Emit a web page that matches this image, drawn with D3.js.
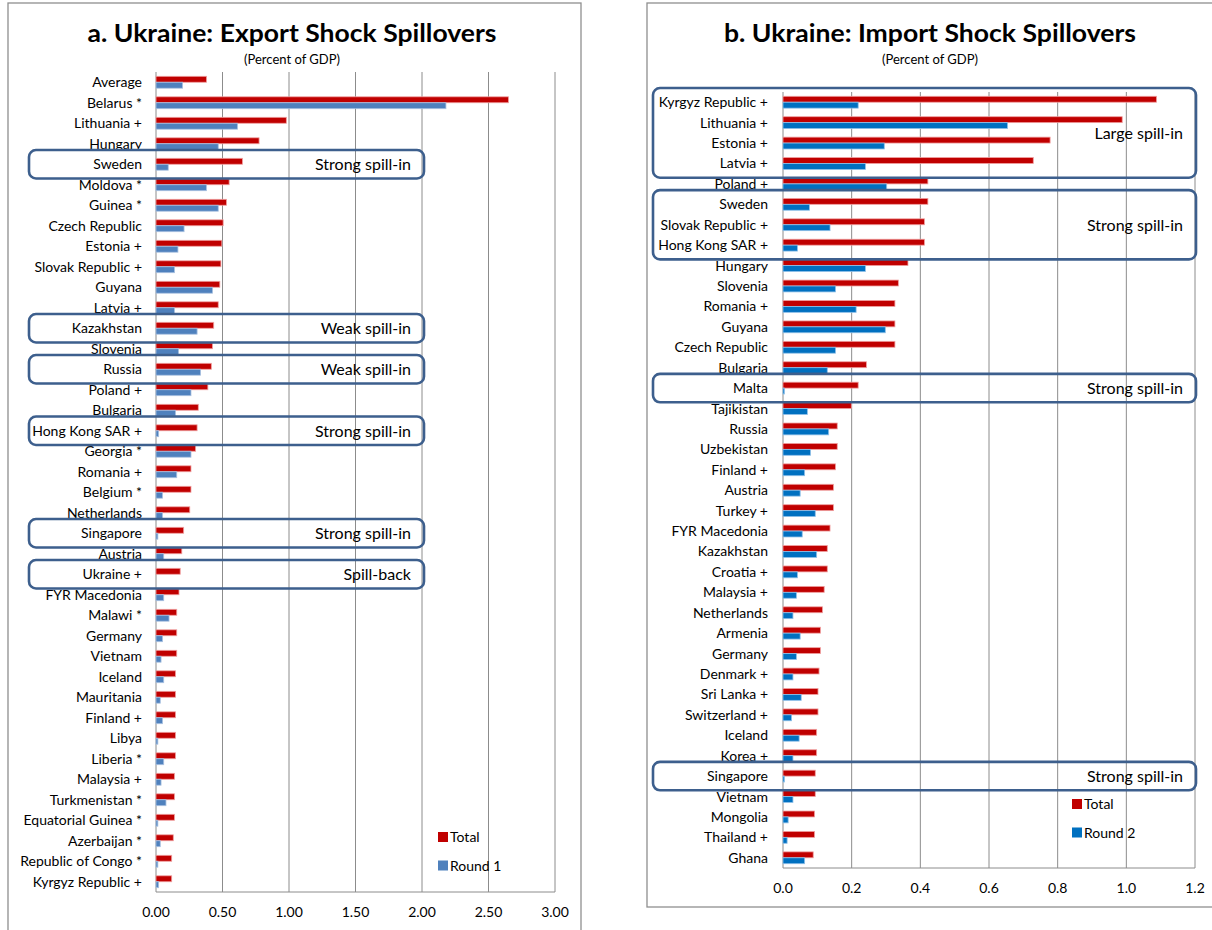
<!DOCTYPE html>
<html>
<head>
<meta charset="utf-8">
<script src="https://cdn.jsdelivr.net/npm/d3@7"></script>
<style>
  body { margin: 0; background: #fff; }
  svg { font-family: Lato, "Open Sans", sans-serif; }
</style>
</head>
<body>
<div id="chart"></div>
<script>
// panel a: export shock
const exportCountries = ["Average", "Belarus *", "Lithuania +", "Hungary", "Sweden", "Moldova *", "Guinea *",
  "Czech Republic", "Estonia +", "Slovak Republic +", "Guyana", "Latvia +", "Kazakhstan", "Slovenia", "Russia",
  "Poland +", "Bulgaria", "Hong Kong SAR +", "Georgia *", "Romania +", "Belgium *", "Netherlands", "Singapore",
  "Austria", "Ukraine +", "FYR Macedonia", "Malawi *", "Germany", "Vietnam", "Iceland", "Mauritania", "Finland +",
  "Libya", "Liberia *", "Malaysia +", "Turkmenistan *", "Equatorial Guinea *", "Azerbaijan *",
  "Republic of Congo *", "Kyrgyz Republic +"];
const exportTotal = [0.38, 2.65, 0.98, 0.775, 0.65, 0.55, 0.53, 0.505, 0.495, 0.488, 0.48, 0.468, 0.434, 0.425,
  0.416, 0.39, 0.318, 0.309, 0.298, 0.263, 0.263, 0.254, 0.208, 0.194, 0.182, 0.173, 0.156, 0.156, 0.156, 0.147,
  0.147, 0.147, 0.147, 0.147, 0.139, 0.139, 0.139, 0.13, 0.118, 0.118];
const exportRound1 = [0.20, 2.18, 0.613, 0.468, 0.092, 0.379, 0.468, 0.211, 0.165, 0.139, 0.425, 0.139, 0.309,
  0.17, 0.335, 0.263, 0.147, 0.02, 0.263, 0.156, 0.049, 0.049, 0.014, 0.058, 0.0, 0.058, 0.098, 0.049, 0.038,
  0.058, 0.032, 0.049, 0.014, 0.058, 0.038, 0.075, 0.014, 0.032, 0.014, 0.02];
const exportBoxes = [
  { from: "Sweden", to: "Sweden", text: "Strong spill-in" },
  { from: "Kazakhstan", to: "Kazakhstan", text: "Weak spill-in" },
  { from: "Russia", to: "Russia", text: "Weak spill-in" },
  { from: "Hong Kong SAR +", to: "Hong Kong SAR +", text: "Strong spill-in" },
  { from: "Singapore", to: "Singapore", text: "Strong spill-in" },
  { from: "Ukraine +", to: "Ukraine +", text: "Spill-back" }
];
const exportTicks = [0, 0.5, 1, 1.5, 2, 2.5, 3];

// panel b: import shock
const importCountries = ["Kyrgyz Republic +", "Lithuania +", "Estonia +", "Latvia +", "Poland +", "Sweden",
  "Slovak Republic +", "Hong Kong SAR +", "Hungary", "Slovenia", "Romania +", "Guyana", "Czech Republic",
  "Bulgaria", "Malta", "Tajikistan", "Russia", "Uzbekistan", "Finland +", "Austria", "Turkey +", "FYR Macedonia",
  "Kazakhstan", "Croatia +", "Malaysia +", "Netherlands", "Armenia", "Germany", "Denmark +", "Sri Lanka +",
  "Switzerland +", "Iceland", "Korea +", "Singapore", "Vietnam", "Mongolia", "Thailand +", "Ghana"];
const importTotal = [1.088, 0.988, 0.778, 0.729, 0.422, 0.422, 0.412, 0.412, 0.364, 0.336, 0.326, 0.326, 0.326,
  0.243, 0.219, 0.199, 0.158, 0.158, 0.153, 0.147, 0.147, 0.137, 0.129, 0.129, 0.12, 0.115, 0.109, 0.109, 0.105,
  0.102, 0.102, 0.098, 0.098, 0.094, 0.094, 0.092, 0.092, 0.088];
const importRound2 = [0.219, 0.654, 0.295, 0.24, 0.302, 0.077, 0.137, 0.042, 0.24, 0.153, 0.213, 0.298, 0.153,
  0.129, 0.004, 0.071, 0.133, 0.08, 0.063, 0.05, 0.094, 0.056, 0.098, 0.042, 0.039, 0.029, 0.05, 0.039, 0.029,
  0.053, 0.025, 0.047, 0.029, 0.004, 0.029, 0.015, 0.012, 0.063];
const importBoxes = [
  { from: "Kyrgyz Republic +", to: "Latvia +", text: "Large spill-in" },
  { from: "Sweden", to: "Hong Kong SAR +", text: "Strong spill-in" },
  { from: "Malta", to: "Malta", text: "Strong spill-in" },
  { from: "Singapore", to: "Singapore", text: "Strong spill-in" }
];
const importTicks = [0, 0.2, 0.4, 0.6, 0.8, 1.0, 1.2];

const svg = d3.select("#chart").append("svg")
  .attr("width", 1212)
  .attr("height", 930);

function drawPanel(opt) {
  const g = svg.append("g");

  // panel frame
  g.append("rect")
    .attr("x", opt.frame[0]).attr("y", opt.frame[1])
    .attr("width", opt.frame[2]).attr("height", opt.frame[3])
    .attr("fill", "none").attr("stroke", "#8f8f8f").attr("stroke-width", 1.3);

  g.append("text")
    .attr("x", opt.titleX).attr("y", 42)
    .attr("text-anchor", "middle")
    .attr("font-weight", "bold").attr("font-size", 24)
    .attr("textLength", opt.titleLen).attr("lengthAdjust", "spacingAndGlyphs")
    .text(opt.title);
  g.append("text")
    .attr("x", opt.titleX).attr("y", 64)
    .attr("text-anchor", "middle").attr("font-size", 13)
    .text("(Percent of GDP)");

  const x = d3.scaleLinear().domain(opt.domain).range(opt.xRange);
  const y = d3.scaleBand().domain(opt.countries).range(opt.yRange).padding(0);
  const bh = y.bandwidth() * 0.29;

  // gridlines
  g.append("g").selectAll("line")
    .data(opt.ticks)
    .join("line")
    .attr("x1", d => x(d)).attr("x2", d => x(d))
    .attr("y1", opt.yRange[0]).attr("y2", opt.yRange[1])
    .attr("stroke", "#8c8c8c").attr("stroke-width", 1);
  g.append("line")
    .attr("x1", opt.xRange[0]).attr("x2", opt.xRange[1])
    .attr("y1", opt.yRange[1]).attr("y2", opt.yRange[1])
    .attr("stroke", "#8c8c8c");

  // tick labels
  g.append("g").selectAll("text")
    .data(opt.ticks)
    .join("text")
    .attr("x", d => x(d)).attr("y", opt.yRange[1] + 25)
    .attr("text-anchor", "middle").attr("font-size", 14)
    .text(d => d3.format(opt.fmt)(d));

  // category labels
  g.append("g").selectAll("text")
    .data(opt.countries)
    .join("text")
    .attr("x", opt.labelX)
    .attr("y", d => y(d) + y.bandwidth() / 2 + 5)
    .attr("text-anchor", "end").attr("font-size", 14)
    .text(d => d);

  // bars
  const rows = opt.countries.map((c, i) => ({ c, a: opt.total[i], b: opt.second[i] }));
  g.append("g").selectAll("rect")
    .data(rows)
    .join("rect")
    .attr("x", x(0))
    .attr("y", d => y(d.c) + y.bandwidth() / 2 - bh)
    .attr("width", d => x(d.a) - x(0))
    .attr("height", bh)
    .attr("fill", "#c00000").attr("stroke", "#f0a0a0").attr("stroke-width", 0.8);
  g.append("g").selectAll("rect")
    .data(rows)
    .join("rect")
    .attr("x", x(0))
    .attr("y", d => y(d.c) + y.bandwidth() / 2)
    .attr("width", d => x(d.b) - x(0))
    .attr("height", bh)
    .attr("fill", opt.secondColor).attr("stroke", opt.secondEdge).attr("stroke-width", 0.8);

  // annotation boxes
  const boxes = g.append("g").selectAll("g")
    .data(opt.boxes)
    .join("g");
  boxes.append("rect")
    .attr("x", opt.boxX[0])
    .attr("y", d => y(d.from) - 4)
    .attr("width", opt.boxX[1] - opt.boxX[0])
    .attr("height", d => y(d.to) + y.bandwidth() - y(d.from) + 8)
    .attr("rx", 7)
    .attr("fill", "none").attr("stroke", "#3d5f8d").attr("stroke-width", 2.6);
  boxes.append("text")
    .attr("x", opt.boxX[1] - 13)
    .attr("y", d => (y(d.from) + y(d.to) + y.bandwidth()) / 2 + 6)
    .attr("text-anchor", "end").attr("font-size", 16)
    .text(d => d.text);

  // legend
  const leg = g.append("g").selectAll("g")
    .data([["Total", "#c00000"], [opt.secondName, opt.secondColor]])
    .join("g")
    .attr("transform", (d, i) => `translate(${opt.legend[0]},${opt.legend[1] + i * 28.5})`);
  leg.append("rect").attr("width", 10).attr("height", 10).attr("fill", d => d[1]);
  leg.append("text").attr("x", 12).attr("y", 10).attr("font-size", 14).text(d => d[0]);
}

drawPanel({
  frame: [8, 3, 573, 940],
  title: "a. Ukraine: Export Shock Spillovers", titleX: 292, titleLen: 409,
  countries: exportCountries, total: exportTotal, second: exportRound1,
  secondName: "Round 1", secondColor: "#4f81bd", secondEdge: "#a9c1e0",
  domain: [0, 3], xRange: [156, 555], yRange: [72, 892], ticks: exportTicks, fmt: ".2f",
  labelX: 142, boxes: exportBoxes, boxX: [29, 424], legend: [438, 832]
});

drawPanel({
  frame: [647, 3, 600, 904],
  title: "b. Ukraine: Import Shock Spillovers", titleX: 930, titleLen: 412,
  countries: importCountries, total: importTotal, second: importRound2,
  secondName: "Round 2", secondColor: "#0070c0", secondEdge: "#8fc0e8",
  domain: [0, 1.2], xRange: [783, 1195], yRange: [92, 868], ticks: importTicks, fmt: ".1f",
  labelX: 768, boxes: importBoxes, boxX: [653, 1196], legend: [1072, 799]
});
</script>
</body>
</html>
